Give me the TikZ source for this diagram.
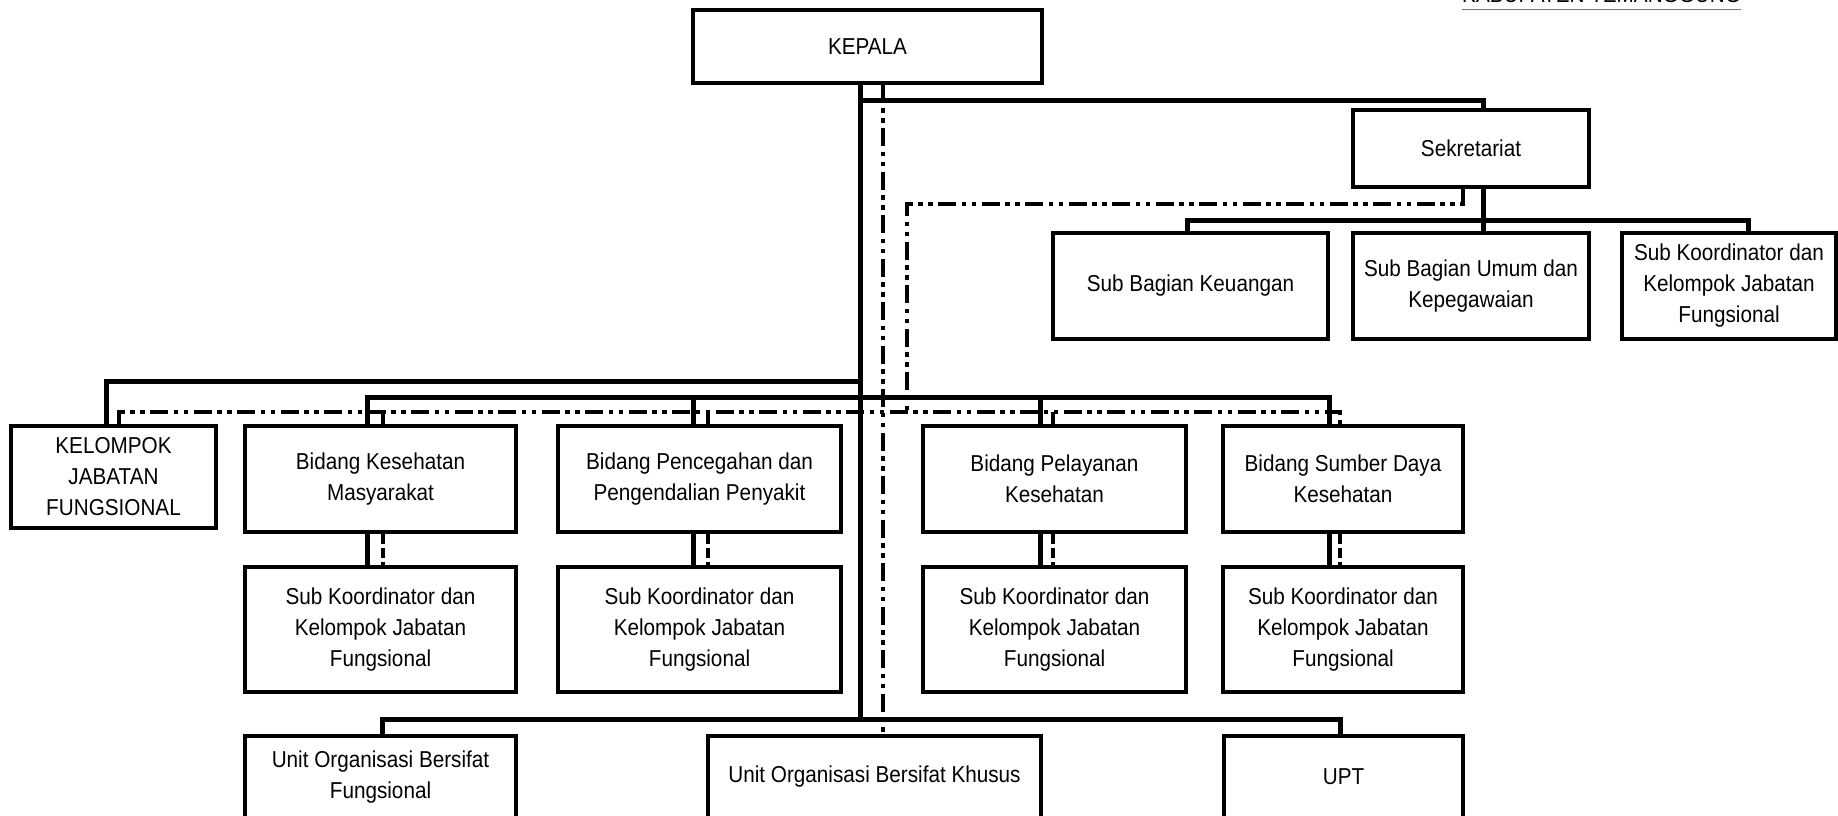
\documentclass[tikz,border=0pt]{standalone}
\usepackage{fontspec}
\setmainfont{Liberation Sans}[FakeStretch=0.9]
\definecolor{hdrblue}{HTML}{4F81BD}
\begin{document}
\begin{tikzpicture}[x=1pt,y=-1pt,
  box/.style={draw, line width=3.6pt, align=center, inner sep=0pt,
    font=\fontsize{23}{31}\selectfont},
  conn/.style={line width=5pt},
  dd/.style={line width=4.8pt, dash pattern=on 18pt off 5.5pt on 4.5pt off 5.5pt on 4.5pt off 5.5pt},
  dsh/.style={line width=4.8pt, dash pattern=on 10pt off 4pt},
  hdrline/.style={draw=hdrblue, line width=1.8pt}]
\path[use as bounding box] (0,0) rectangle (1838,815);

% header (clipped at the top edge, as in the reference)
\node[anchor=base west, inner sep=0pt, font=\fontsize{23}{28}\selectfont] (hdr) at (1462,2.5) {KABUPATEN TEMANGGUNG};
\draw[hdrline] ([yshift=-6.5pt]hdr.south west) -- ([yshift=-6.5pt]hdr.south east);

% boxes
\node[box, minimum width=349, minimum height=73] (kepala) at (867.5,46.5) {KEPALA};
\node[box, minimum width=236, minimum height=77] (sek) at (1471,148.5) {Sekretariat};
\node[box, minimum width=275, minimum height=106] (keu) at (1190.5,286) {Sub Bagian Keuangan};
\node[box, minimum width=236, minimum height=106] (umum) at (1471,286) {Sub Bagian Umum dan\\Kepegawaian};
\node[box, minimum width=214, minimum height=106] (skj) at (1729,286) {Sub Koordinator dan\\Kelompok Jabatan\\Fungsional};

\node[box, minimum width=205, minimum height=102] (kjf) at (113.5,477) {KELOMPOK\\JABATAN\\FUNGSIONAL};
\node[box, minimum width=271, minimum height=106] (kesmas) at (380.5,479) {Bidang Kesehatan\\Masyarakat};
\node[box, minimum width=283, minimum height=106] (cegah) at (699.5,479) {Bidang Pencegahan dan\\Pengendalian Penyakit};
\node[box, minimum width=263, minimum height=106] (layan) at (1054.5,479) {Bidang Pelayanan\\Kesehatan};
\node[box, minimum width=240, minimum height=106] (sdk) at (1343,479) {Bidang Sumber Daya\\Kesehatan};

\node[box, minimum width=271, minimum height=125] (sk1) at (380.5,629.5) {Sub Koordinator dan\\Kelompok Jabatan\\Fungsional};
\node[box, minimum width=283, minimum height=125] (sk2) at (699.5,629.5) {Sub Koordinator dan\\Kelompok Jabatan\\Fungsional};
\node[box, minimum width=263, minimum height=125] (sk3) at (1054.5,629.5) {Sub Koordinator dan\\Kelompok Jabatan\\Fungsional};
\node[box, minimum width=240, minimum height=125] (sk4) at (1343,629.5) {Sub Koordinator dan\\Kelompok Jabatan\\Fungsional};

\node[box, minimum width=271, minimum height=82] (uof) at (380.5,777) {Unit Organisasi Bersifat\\Fungsional};
\node[box, minimum width=333, minimum height=82] (uok) at (874.5,777) {Unit Organisasi Bersifat Khusus};
\node[box, minimum width=239, minimum height=82] (upt) at (1343.5,777) {UPT};

% bus coordinates
\coordinate (t1) at (860,100);
\coordinate (t2) at (860,381);
\coordinate (t3) at (860,719);
\coordinate (s1) at (1483,100);
\coordinate (s2) at (1483,220);
\coordinate (sb1) at (1187,220);
\coordinate (sb3) at (1748,220);
\coordinate (k1) at (106,381);
\coordinate (bx1) at (367,397);
\coordinate (bx2) at (693,397);
\coordinate (bx3) at (1040,397);
\coordinate (bx4) at (1329,397);
\coordinate (dx0) at (119,412);
\coordinate (dx1) at (383,412);
\coordinate (dx2) at (708,412);
\coordinate (dx3) at (1053,412);
\coordinate (dx4) at (1340,412);
\coordinate (d0) at (883,0);
\coordinate (e1) at (1463,204);
\coordinate (e2) at (907,204);
\coordinate (e3) at (907,410);
\coordinate (u1) at (382,719);
\coordinate (u3) at (1340,719);

% solid lines of command
\draw[conn] (kepala.south -| t1) -- (t3);
\draw[conn] (t1) -- (s1) -- (sek.north -| s1);
\draw[conn] (sek.south -| s2) -- (s2);
\draw[conn] (keu.north -| sb1) -- (sb1) -- (sb3) -- (skj.north -| sb3);
\draw[conn] (s2) -- (umum.north -| s2);
\draw[conn] (t2) -- (k1) -- (kjf.north -| k1);
\draw[conn] (kesmas.north -| bx1) -- (bx1) -- (bx4) -- (sdk.north -| bx4);
\draw[conn] (bx2) -- (cegah.north -| bx2);
\draw[conn] (bx3) -- (layan.north -| bx3);
\draw[conn] (kesmas.south -| bx1) -- (sk1.north -| bx1);
\draw[conn] (cegah.south -| bx2) -- (sk2.north -| bx2);
\draw[conn] (layan.south -| bx3) -- (sk3.north -| bx3);
\draw[conn] (sdk.south -| bx4) -- (sk4.north -| bx4);
\draw[conn] (uof.north -| u1) -- (u1) -- (u3) -- (upt.north -| u3);

% coordination lines
\draw[dd] (kepala.south -| d0) -- (uok.north -| d0);
\draw[dd] (sek.south -| e1) -- (e1) -- (e2) -- (e3);
\draw[dd] (kjf.north -| dx0) -- (dx0) -- (dx4) -- (sdk.north -| dx4);
\draw[dd] (dx1) -- (kesmas.north -| dx1);
\draw[dd] (dx2) -- (cegah.north -| dx2);
\draw[dd] (dx3) -- (layan.north -| dx3);
\draw[dsh] (kesmas.south -| dx1) -- (sk1.north -| dx1);
\draw[dsh] (cegah.south -| dx2) -- (sk2.north -| dx2);
\draw[dsh] (layan.south -| dx3) -- (sk3.north -| dx3);
\draw[dsh] (sdk.south -| dx4) -- (sk4.north -| dx4);
\end{tikzpicture}
\end{document}
